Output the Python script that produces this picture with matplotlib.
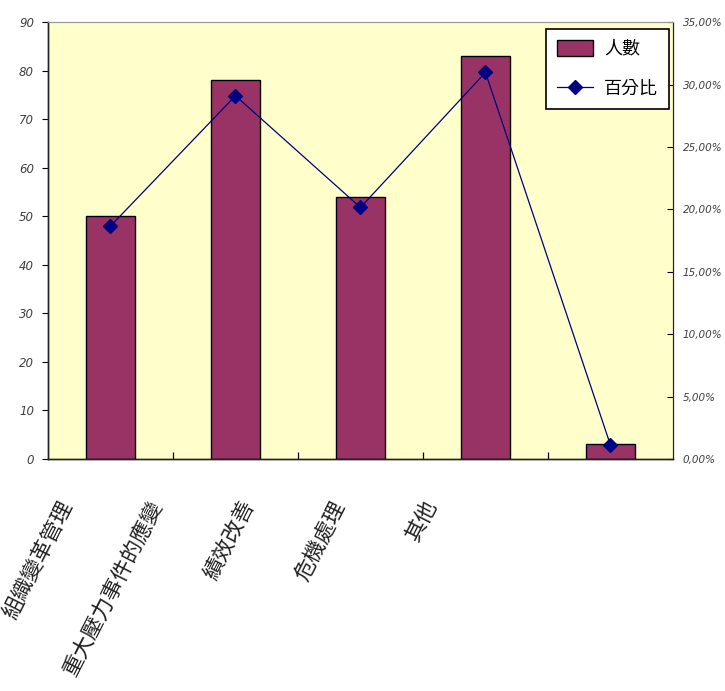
import matplotlib
matplotlib.use("Agg")
import matplotlib.pyplot as plt
import matplotlib.transforms as mtransforms
from matplotlib.ticker import FuncFormatter, FixedLocator
import numpy as np

plt.rcParams['font.family'] = ['Noto Sans CJK TC', 'DejaVu Sans']

# --------------------------
# Data
# --------------------------
categories = ['組織變革管理', '重大壓力事件的應變', '績效改善', '危機處理', '其他']
counts = [50, 78, 54, 83, 3]                      # 人數
percents = [18.66, 29.10, 20.15, 30.97, 1.12]     # 百分比 (%)
label_shift_px = [-43, -78, -111, -146, -179]     # odd Excel label placement

BAR_COLOR = '#993366'
LINE_COLOR = '#000080'
BG_COLOR = '#FFFFCC'

fig = plt.figure(figsize=(7.25, 6.91), dpi=100)
ax = fig.add_axes([0.0662, 0.3357, 0.862, 0.6323])
ax.set_facecolor(BG_COLOR)

x = np.arange(len(categories))
bars = ax.bar(x, counts, width=0.39, color=BAR_COLOR, edgecolor='black',
              linewidth=1.0, label='人數', zorder=2)
ax.set_xlim(-0.5, len(categories) - 0.5)
ax.set_ylim(0, 90)
ax.set_yticks(range(0, 91, 10))

ax2 = ax.twinx()
line, = ax2.plot(x, percents, color=LINE_COLOR, linewidth=0.9, marker='D',
                 markersize=7, label='百分比', zorder=3)
ax2.set_ylim(0, 35)
ax2.set_yticks(range(0, 36, 5))
ax2.yaxis.set_major_formatter(FuncFormatter(lambda v, p: f'{v:.2f}%'.replace('.', ',')))

# tick styling
for a, fs in ((ax, 8.5), (ax2, 7.5)):
    for lab in a.get_yticklabels():
        lab.set_family('DejaVu Sans')
        lab.set_style('italic')
        lab.set_fontsize(fs)
        lab.set_color('#404040')
ax.tick_params(axis='y', direction='out', length=4, width=0.8, pad=6)
ax2.tick_params(axis='y', direction='in', length=4, width=0.8, pad=7)

# category ticks between bars
ax.xaxis.set_minor_locator(FixedLocator(x[:-1] + 0.5))
ax.tick_params(axis='x', which='minor', direction='in', length=5, width=0.9)
ax.set_xticks(x)
ax.set_xticklabels(categories, rotation=63, ha='right', va='center',
                   rotation_mode='anchor', fontsize=15.5, color='#202020')
ax.tick_params(axis='x', which='major', length=0, pad=31)
for lab, dx in zip(ax.get_xticklabels(), label_shift_px):
    offset = mtransforms.ScaledTranslation(dx / 100, 0, fig.dpi_scale_trans)
    lab.set_transform(lab.get_transform() + offset)

# spines
for a in (ax, ax2):
    a.spines['top'].set_color('#999999')
    a.spines['left'].set_color('#222222')
    a.spines['bottom'].set_color('#222222')
    a.spines['right'].set_color('#222222')
    a.spines['left'].set_linewidth(1.0)
    a.spines['bottom'].set_linewidth(1.0)

leg = ax2.legend([bars, line], ['人數', '百分比'], loc='upper right',
                 bbox_to_anchor=(0.996, 0.989), fontsize=13, frameon=True,
                 fancybox=False, edgecolor='black', framealpha=1,
                 handlelength=2.0, handleheight=1.0, labelspacing=1.2,
                 borderpad=0.6, borderaxespad=0.1, handletextpad=0.6)
leg.get_frame().set_linewidth(1.2)

fig.savefig('out.png', dpi=100, facecolor='white')
